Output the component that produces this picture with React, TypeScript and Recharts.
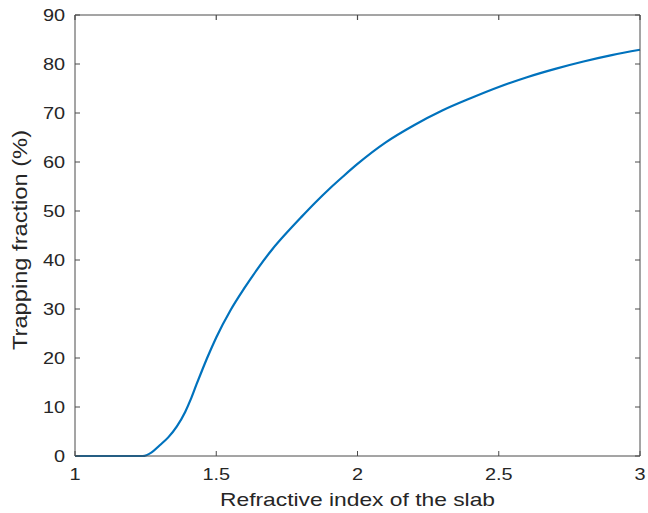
import { LineChart, Line, XAxis, YAxis, CartesianGrid } from 'recharts';

// refractive index of the slab
const indexValues = [1, 1.1, 1.2, 1.24, 1.27, 1.3, 1.33, 1.36, 1.39, 1.41, 1.43, 1.45, 1.47, 1.5, 1.55, 1.6, 1.65, 1.7, 1.75, 1.8, 1.85, 1.9, 1.95, 2.0, 2.1, 2.2, 2.3, 2.4, 2.5, 2.6, 2.7, 2.8, 2.9, 3.0];
// trapping fraction (%)
const trappingValues = [0, 0, 0, 0, 0.7, 2.2, 3.8, 6.0, 9.0, 11.6, 14.6, 17.5, 20.3, 24.2, 29.7, 34.3, 38.5, 42.3, 45.6, 48.7, 51.7, 54.5, 57.1, 59.6, 64.0, 67.5, 70.5, 73.0, 75.3, 77.3, 79.0, 80.5, 81.8, 82.9];

const xTicks = [1, 1.5, 2, 2.5, 3];
const yTicks = [0, 10, 20, 30, 40, 50, 60, 70, 80, 90];

const data = indexValues.map((n, i) => ({ n, frac: trappingValues[i] }));

const axisColor = '#4a4a4a';
const textColor = '#262626';
const font = '"Liberation Sans", Arial, sans-serif';
const plotTop = 15;

// bottom tick label, plus the mirrored inward tick on the top edge
const XTick = ({ x, payload }: { x?: number; payload?: { value: number } }) => (
    <g>
        <path d={`M${x},${plotTop}V${plotTop + 5}`} stroke={axisColor} strokeWidth={1.2} fill="none" />
        <text
            transform={`translate(${x},480) scale(1.17,1)`}
            textAnchor="middle"
            fill={textColor}
            fontSize={17}
            fontFamily={font}
        >
            {payload?.value}
        </text>
    </g>
);

const YTick = ({ y, payload }: { y?: number; payload?: { value: number } }) => (
    <text
        transform={`translate(65,${y}) scale(1.17,1)`}
        dy="0.36em"
        textAnchor="end"
        fill={textColor}
        fontSize={17}
        fontFamily={font}
    >
        {payload?.value}
    </text>
);

const YLabel = () => (
    <text
        x={0}
        y={0}
        transform="translate(27,240) rotate(-90)"
        textAnchor="middle"
        fill={textColor}
        fontSize={20}
        fontFamily={font}
        textLength={220}
        lengthAdjust="spacingAndGlyphs"
    >
        Trapping fraction (%)
    </text>
);

const XLabel = () => (
    <text
        x={357.5}
        y={506}
        textAnchor="middle"
        fill={textColor}
        fontSize={18.5}
        fontFamily={font}
        textLength={275}
        lengthAdjust="spacingAndGlyphs"
    >
        Refractive index of the slab
    </text>
);

const NoTick = () => <g />;

export default function App() {
    return (
        <div style={{ position: 'fixed', left: 0, top: 0, width: 648, height: 513, background: '#fff' }}>
            <LineChart width={648} height={513} data={data} margin={{ top: plotTop, right: 7, left: 0, bottom: 0 }}>
                {/* top edge of the box */}
                <CartesianGrid
                    xAxisId="b"
                    yAxisId="l"
                    vertical={false}
                    horizontalValues={[90]}
                    stroke={axisColor}
                    strokeDasharray=""
                />
                <XAxis
                    xAxisId="b"
                    dataKey="n"
                    type="number"
                    domain={[1, 3]}
                    ticks={xTicks}
                    height={57}
                    stroke={axisColor}
                    tickSize={-5}
                    tick={<XTick />}
                    label={<XLabel />}
                />
                <YAxis
                    yAxisId="l"
                    type="number"
                    domain={[0, 90]}
                    ticks={yTicks}
                    width={75}
                    stroke={axisColor}
                    tickSize={-5}
                    tick={<YTick />}
                    label={<YLabel />}
                />
                <YAxis
                    yAxisId="r"
                    orientation="right"
                    type="number"
                    domain={[0, 90]}
                    ticks={yTicks}
                    width={1}
                    stroke={axisColor}
                    tickSize={-5}
                    tick={<NoTick />}
                />
                {/* invisible copy so the right frame axis gets rendered */}
                <Line
                    xAxisId="b"
                    yAxisId="r"
                    dataKey="frac"
                    stroke="none"
                    dot={false}
                    activeDot={false}
                    legendType="none"
                    isAnimationActive={false}
                />
                <Line
                    xAxisId="b"
                    yAxisId="l"
                    dataKey="frac"
                    type="monotone"
                    stroke="#0072BD"
                    strokeWidth={2.2}
                    dot={false}
                    isAnimationActive={false}
                />
            </LineChart>
        </div>
    );
}
